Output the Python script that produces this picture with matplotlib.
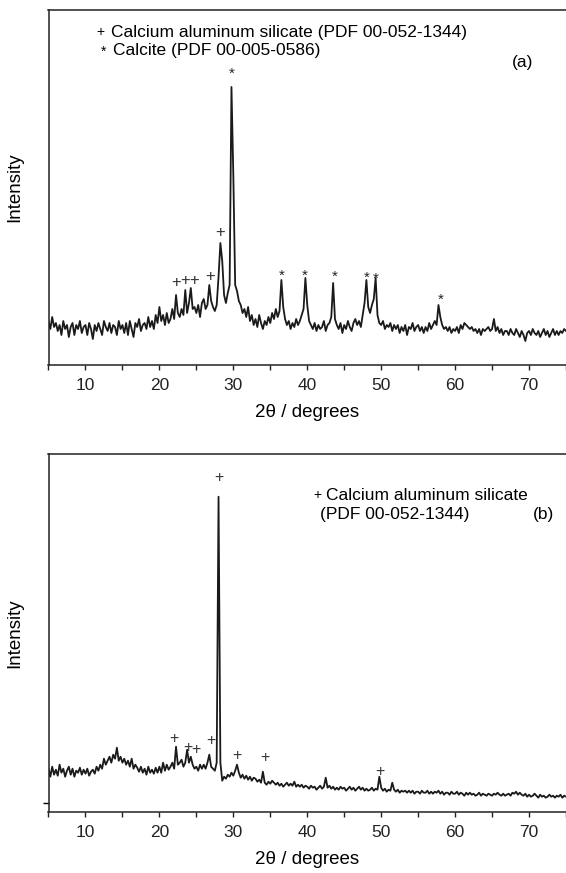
import numpy as np
import matplotlib
matplotlib.use('Agg')
import matplotlib.pyplot as plt
from matplotlib.ticker import MultipleLocator

plt.rcParams['font.family'] = ['Liberation Sans', 'DejaVu Sans']

# scan grid, 0.25 deg steps
two_theta = np.arange(5.0, 75.001, 0.25)

# (a) intensity, arbitrary units, 4 values per degree
intensity_a = [
    44, 36, 48, 38,  42, 34, 40, 30,  44, 36, 40, 28,  38, 42, 30, 40,
    36, 44, 32, 38,  40, 30, 42, 36,  26, 40, 34, 42,  36, 30, 44, 38,
    34, 42, 32, 40,  38, 30, 44, 36,  40, 32, 42, 30,  44, 36, 28, 42,
    38, 46, 34, 40,  42, 36, 48, 38,  44, 36, 50, 42,  58, 44, 50, 40,
    52, 42, 46, 56,  46, 70, 52, 48,  56, 50, 75, 52,  62, 77, 56, 58,
    52, 60, 48, 62,  66, 56, 60, 80,  64, 58, 54, 60,  88, 122, 104, 70,
    62, 72, 80, 278,  190, 80, 74, 64,  60, 52, 56, 48,  58, 44, 50, 40,
    46, 38, 50, 42,  36, 44, 40, 48,  42, 52, 46, 56,  48, 54, 85, 58,
    46, 40, 44, 36,  42, 38, 46, 40,  44, 50, 56, 87,  60, 44, 40, 36,
    42, 34, 40, 36,  38, 44, 34, 40,  42, 48, 82, 46,  40, 36, 42, 32,
    40, 36, 44, 38,  34, 42, 46, 40,  44, 38, 50, 62,  85, 58, 52, 60,
    66, 87, 50, 42,  40, 44, 36, 40,  38, 42, 34, 40,  36, 40, 32, 38,
    34, 40, 30, 38,  36, 42, 34, 38,  40, 34, 38, 32,  38, 34, 42, 36,
    40, 44, 40, 60,  48, 40, 36, 38,  34, 38, 32, 36,  34, 38, 32, 40,
    36, 42, 40, 38,  36, 38, 34, 36,  32, 36, 30, 36,  34, 36, 38, 34,
    36, 46, 34, 38,  32, 36, 30, 34,  34, 30, 36, 32,  30, 36, 32, 28,
    34, 30, 24, 32,  34, 30, 36, 32,  30, 34, 28, 32,  36, 30, 34, 28,
    32, 36, 30, 34,  30, 34, 32, 36,  34,
]

# (b) intensity, arbitrary units
intensity_b = [
    34, 26, 36, 28,  33, 27, 38, 30,  34, 26, 32, 36,  28, 34, 26, 32,
    30, 35, 28, 33,  29, 34, 27, 31,  33, 29, 36, 32,  38, 34, 44, 38,
    42, 46, 40, 48,  44, 55, 42, 46,  40, 44, 38, 42,  36, 44, 34, 38,
    35, 31, 36, 30,  34, 28, 36, 30,  33, 29, 35, 30,  36, 30, 40, 32,
    38, 33, 36, 40,  34, 56, 38, 40,  43, 36, 40, 53,  40, 46, 38, 34,
    36, 32, 38, 34,  38, 34, 40, 48,  36, 34, 32, 40,  306, 40, 22, 26,
    24, 28, 26, 30,  27, 32, 38, 30,  25, 28, 24, 27,  23, 26, 22, 25,
    24, 21, 23, 20,  31, 20, 18, 21,  19, 22, 20, 18,  20, 17, 19, 16,
    18, 20, 17, 19,  17, 21, 16, 18,  16, 18, 15, 17,  16, 14, 17, 15,
    16, 13, 15, 17,  14, 16, 25, 15,  17, 14, 16, 13,  15, 13, 16, 14,
    15, 12, 14, 16,  13, 15, 12, 14,  16, 13, 15, 12,  14, 12, 13, 15,
    12, 14, 13, 26,  15, 12, 14, 11,  13, 12, 20, 13,  11, 13, 10, 12,
    11, 12, 10, 12,  10, 12, 9, 11,  11, 9, 12, 10,  10, 12, 9, 11,
    9, 11, 10, 12,  9, 11, 8, 10,  10, 8, 11, 9,  9, 11, 8, 10,
    9, 7, 10, 8,  10, 8, 9, 7,  8, 10, 7, 9,  8, 7, 9, 8,
    7, 9, 8, 10,  8, 7, 9, 7,  8, 9, 7, 10,  9, 11, 8, 10,
    8, 7, 9, 6,  8, 6, 7, 9,  7, 5, 8, 6,  7, 5, 6, 8,
    6, 7, 5, 7,  6, 8, 5, 7,  6,
]

# phase markers
cas_a_pos = [22.3, 23.5, 24.7, 26.8, 28.2]
cas_a_h = [82, 84, 84, 88, 133]
calcite_pos = [29.8, 36.5, 39.7, 43.7, 48.1, 49.3, 58.0]
calcite_h = [294, 92, 92, 91, 90, 89, 68]

cas_b_pos = [21.95, 23.85, 25.0, 26.9, 28.0, 30.5, 34.3, 49.8]
cas_b_h = [64, 55, 53, 62, 325, 47, 45, 31]

W, H = 566, 873
fig = plt.figure(figsize=(W / 100, H / 100), dpi=100)
ax_a = fig.add_axes([48.5 / W, (H - 365) / H, 1 - 48.5 / W, 355 / H])
ax_b = fig.add_axes([48.5 / W, (H - 811.7) / H, 1 - 48.5 / W, 357.7 / H])

line_col = '#1a1a1a'
ax_a.plot(two_theta, intensity_a, color=line_col, lw=1.3)
ax_b.plot(two_theta, intensity_b, color=line_col, lw=1.3)

ax_a.set_ylim(0, 355)
ax_b.set_ylim(-9, 348.7)

for ax in (ax_a, ax_b):
    ax.set_xlim(5, 75)
    ax.xaxis.set_major_locator(MultipleLocator(10))
    ax.xaxis.set_minor_locator(MultipleLocator(5))
    ax.tick_params(axis='x', which='both', direction='out', length=3.5,
                   width=1.0, labelsize=12.5, pad=6, colors='#222222')
    ax.spines['right'].set_visible(False)
    for s in ('left', 'top', 'bottom'):
        ax.spines[s].set_linewidth(1.1)
        ax.spines[s].set_color('#222222')
    ax.set_xlabel('2\u03b8 / degrees', fontsize=13.5, labelpad=8)

ax_a.set_yticks([])
ax_b.set_yticks([0])
ax_b.set_yticklabels([])
ax_b.tick_params(axis='y', direction='out', length=4, width=1.0)

fig.text(15 / W, 1 - 187.5 / H, 'Intensity', rotation=90, ha='center',
         va='center', fontsize=13.5)
fig.text(15 / W, 1 - 633 / H, 'Intensity', rotation=90, ha='center',
         va='center', fontsize=13.5)

for x, h in zip(cas_a_pos, cas_a_h):
    ax_a.text(x, h, '+', ha='center', va='center', fontsize=12, color='#333333')
for x, h in zip(calcite_pos, calcite_h):
    ax_a.text(x, h - 3, '*', ha='center', va='center', fontsize=11, color='#222222')
for x, h in zip(cas_b_pos, cas_b_h):
    ax_b.text(x, h, '+', ha='center', va='center', fontsize=11.5, color='#333333')

# legends as text
ax_a.text(12.0, 333, '+', ha='center', va='center', fontsize=10)
ax_a.text(13.45, 333, 'Calcium aluminum silicate (PDF 00-052-1344)',
          ha='left', va='center', fontsize=12.5)
ax_a.text(12.4, 313, '*', ha='center', va='center', fontsize=10)
ax_a.text(13.7, 315, 'Calcite (PDF 00-005-0586)', ha='left', va='center',
          fontsize=12.5)
ax_a.text(67.7, 302, '(a)', ha='left', va='center', fontsize=12.5)

ax_b.text(41.4, 307.7, '+', ha='center', va='center', fontsize=10)
ax_b.text(42.6, 307.7, 'Calcium aluminum silicate', ha='left', va='center',
          fontsize=12.5)
ax_b.text(41.7, 287.7, '(PDF 00-052-1344)', ha='left', va='center',
          fontsize=12.5)
ax_b.text(70.5, 287.7, '(b)', ha='left', va='center', fontsize=12.5)

fig.savefig('out.png', dpi=100)
